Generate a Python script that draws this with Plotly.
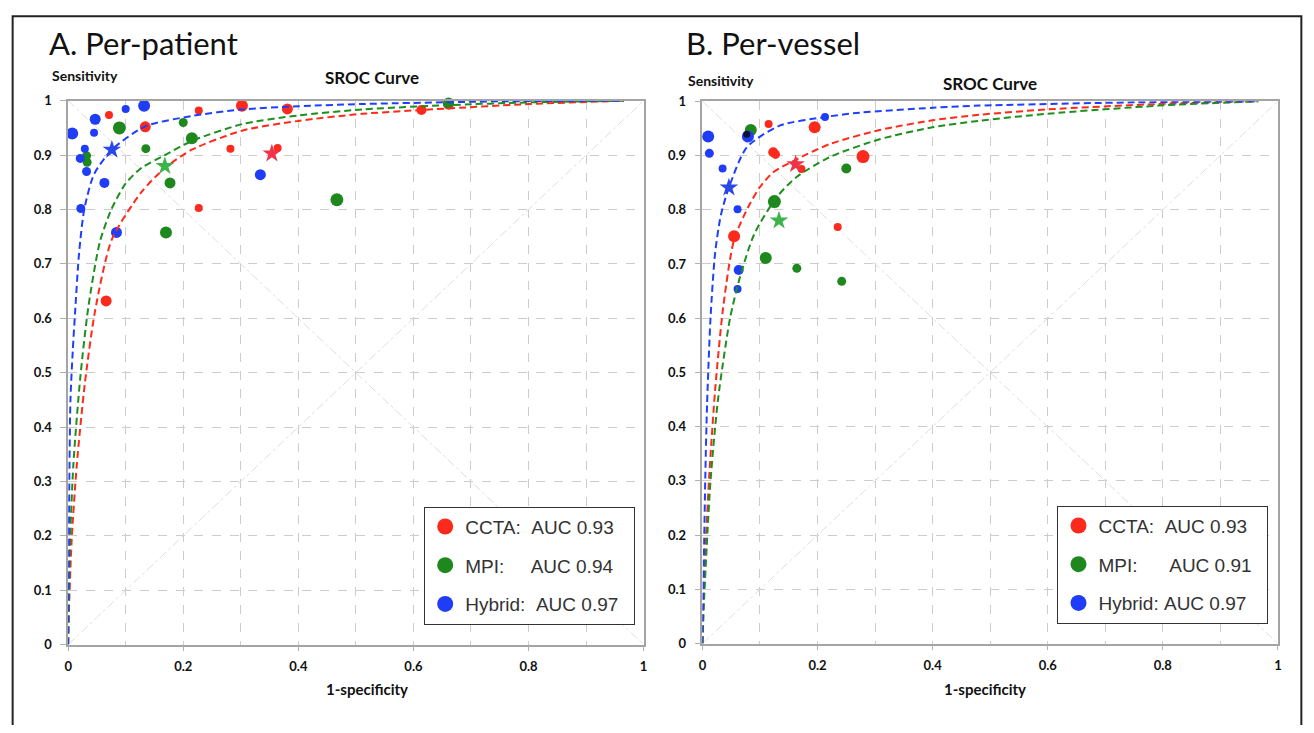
import plotly.graph_objects as go

# figure size (the page adds an 8px body margin)
W, H = 1298, 717
# measured render calibration: screenshot_px = X0 + XS * figure_px (same for y)
X0, XS = 9.7, 0.9965
Y0, YS = 15.2, 0.978

# ---------------- Panel A: per-patient ----------------
a_ccta_x = [0.071, 0.134, 0.227, 0.302, 0.381, 0.282, 0.364, 0.227, 0.066, 0.614, 0.661]
a_ccta_y = [0.974, 0.952, 0.982, 0.991, 0.985, 0.912, 0.913, 0.803, 0.632, 0.983, 0.994]
a_ccta_s = [8, 11, 8, 12, 11, 8, 8, 8, 11, 10, 11]

a_mpi_x = [0.089, 0.032, 0.033, 0.135, 0.200, 0.215, 0.177, 0.467, 0.170, 0.661]
a_mpi_y = [0.950, 0.899, 0.887, 0.912, 0.960, 0.931, 0.849, 0.818, 0.758, 0.996]
a_mpi_s = [13, 9, 9, 9, 9, 12, 11, 13, 12, 11]

a_hyb_x = [0.007, 0.047, 0.100, 0.132, 0.045, 0.029, 0.021, 0.032, 0.063, 0.334, 0.022, 0.084]
a_hyb_y = [0.940, 0.966, 0.985, 0.991, 0.941, 0.912, 0.894, 0.870, 0.849, 0.864, 0.802, 0.758]
a_hyb_s = [12, 11, 8, 12, 8, 8, 9, 9, 10, 11, 9, 11]

a_star_x = [0.354, 0.168, 0.076]   # CCTA, MPI, Hybrid summary points
a_star_y = [0.903, 0.880, 0.910]

a_curve_ccta_x = [0, 0.001, 0.006, 0.015, 0.029, 0.047, 0.076, 0.128, 0.170, 0.215, 0.302, 0.400, 0.511, 0.614, 0.800, 0.966]
a_curve_ccta_y = [0, 0.050, 0.190, 0.330, 0.480, 0.615, 0.745, 0.833, 0.878, 0.910, 0.945, 0.963, 0.976, 0.983, 0.994, 1.0]
a_curve_mpi_x = [0, 0.001, 0.003, 0.009, 0.021, 0.035, 0.055, 0.075, 0.100, 0.128, 0.168, 0.215, 0.302, 0.400, 0.511, 0.661, 0.800, 0.966]
a_curve_mpi_y = [0, 0.070, 0.180, 0.330, 0.490, 0.620, 0.740, 0.800, 0.848, 0.877, 0.900, 0.926, 0.957, 0.973, 0.984, 0.992, 0.997, 1.0]
a_curve_hyb_x = [0, 0.001, 0.002, 0.004, 0.008, 0.012, 0.019, 0.028, 0.045, 0.076, 0.134, 0.215, 0.302, 0.400, 0.511, 0.754, 0.966]
a_curve_hyb_y = [0, 0.150, 0.300, 0.450, 0.540, 0.610, 0.720, 0.800, 0.865, 0.910, 0.953, 0.972, 0.984, 0.990, 0.994, 0.999, 1.0]

# ---------------- Panel B: per-vessel ----------------
b_ccta_x = [0.055, 0.115, 0.195, 0.123, 0.127, 0.172, 0.279, 0.235]
b_ccta_y = [0.751, 0.958, 0.952, 0.906, 0.902, 0.875, 0.898, 0.768]
b_ccta_s = [12, 8, 12, 10, 9, 8, 13, 8]

b_mpi_x = [0.084, 0.250, 0.125, 0.110, 0.164, 0.242]
b_mpi_y = [0.947, 0.876, 0.815, 0.711, 0.692, 0.668]
b_mpi_s = [12, 10, 13, 12, 9, 9]

b_hyb_x = [0.010, 0.012, 0.035, 0.061, 0.063, 0.061, 0.079, 0.213]
b_hyb_y = [0.935, 0.904, 0.876, 0.801, 0.689, 0.654, 0.935, 0.971]
b_hyb_s = [12, 9, 8, 8, 10, 8, 12, 8]

b_dark_x = [0.077]
b_dark_y = [0.939]

b_star_x = [0.162, 0.133, 0.046]
b_star_y = [0.884, 0.780, 0.841]

b_curve_ccta_x = [0, 0.002, 0.006, 0.012, 0.022, 0.036, 0.055, 0.079, 0.100, 0.123, 0.162, 0.221, 0.308, 0.400, 0.481, 0.600, 0.793, 0.966]
b_curve_ccta_y = [0, 0.080, 0.191, 0.313, 0.467, 0.620, 0.745, 0.804, 0.842, 0.869, 0.892, 0.921, 0.947, 0.965, 0.975, 0.985, 0.995, 1.0]
b_curve_mpi_x = [0, 0.003, 0.009, 0.014, 0.027, 0.048, 0.065, 0.090, 0.129, 0.163, 0.221, 0.308, 0.400, 0.481, 0.600, 0.793, 0.966]
b_curve_mpi_y = [0, 0.085, 0.210, 0.300, 0.450, 0.600, 0.675, 0.755, 0.823, 0.860, 0.897, 0.930, 0.952, 0.964, 0.977, 0.992, 1.0]
b_curve_hyb_x = [0, 0.001, 0.003, 0.005, 0.008, 0.014, 0.022, 0.032, 0.046, 0.077, 0.134, 0.213, 0.273, 0.400, 0.481, 0.750, 0.966]
b_curve_hyb_y = [0, 0.070, 0.190, 0.310, 0.440, 0.600, 0.720, 0.790, 0.841, 0.915, 0.955, 0.971, 0.979, 0.988, 0.992, 0.998, 1.0]

diag_x = [0, 1]
diag_up_y = [0, 1]
diag_down_y = [1, 0]

NB = "\u00a0"
a_legend = ["CCTA:" + NB * 2 + "AUC 0.93" + NB * 2, "MPI:" + NB * 5 + "AUC 0.94" + NB * 2,
            "Hybrid:" + NB * 2 + "AUC 0.97" + NB * 2]
b_legend = ["CCTA:" + NB * 2 + "AUC 0.93" + NB * 2, "MPI:" + NB * 6 + "AUC 0.91" + NB * 2,
            "Hybrid:" + NB + "AUC 0.97" + NB * 2]

RED, GREEN, BLUE = "#fb2a1c", "#1e881e", "#1f3cf7"
STAR_COLORS = ["#ef3348", "#3cb44a", "#2a48e8"]
CURVE_COLORS = ["#ff2a1a", "#1c8f1c", "#1f3fff"]

fig = go.Figure()


def add_panel(xa, ya, ccta, mpi, hyb, stars, curves, legend_names, legend_id, dark=None):
    # chance diagonals
    for dy in (diag_up_y, diag_down_y):
        fig.add_trace(go.Scatter(x=diag_x, y=dy, mode="lines", xaxis=xa, yaxis=ya,
                                 line=dict(color="#dedede", width=1, dash="dashdot"),
                                 showlegend=False, hoverinfo="skip"))
    # study points
    for (xs, ys, ss), col in zip((ccta, mpi, hyb), (RED, GREEN, BLUE)):
        fig.add_trace(go.Scatter(x=xs, y=ys, mode="markers", xaxis=xa, yaxis=ya,
                                 marker=dict(color=col, size=ss, opacity=1, line=dict(width=0)),
                                 cliponaxis=False, showlegend=False))
    if dark is not None:
        fig.add_trace(go.Scatter(x=dark[0], y=dark[1], mode="markers", xaxis=xa, yaxis=ya,
                                 marker=dict(color="#101030", size=7, opacity=1),
                                 cliponaxis=False, showlegend=False))
    # SROC curves
    for (cx, cy), col in zip(curves, CURVE_COLORS):
        fig.add_trace(go.Scatter(x=cx, y=cy, mode="lines", xaxis=xa, yaxis=ya,
                                 line=dict(color=col, width=2, dash="7px,4px", shape="spline",
                                           smoothing=0.7),
                                 showlegend=False, hoverinfo="skip"))
    # summary points
    for i in range(3):
        fig.add_trace(go.Scatter(x=[stars[0][i]], y=[stars[1][i]], mode="markers",
                                 xaxis=xa, yaxis=ya,
                                 marker=dict(symbol="star", size=14, color=STAR_COLORS[i],
                                             opacity=1, line=dict(width=0)),
                                 cliponaxis=False, showlegend=False))
    # legend entries
    for name, col in zip(legend_names, (RED, GREEN, BLUE)):
        fig.add_trace(go.Scatter(x=[None], y=[None], mode="markers", xaxis=xa, yaxis=ya,
                                 name=name, legend=legend_id, legendgroup=legend_id + name,
                                 marker=dict(color=col, size=16)))


add_panel("x", "y", (a_ccta_x, a_ccta_y, a_ccta_s), (a_mpi_x, a_mpi_y, a_mpi_s),
          (a_hyb_x, a_hyb_y, a_hyb_s), (a_star_x, a_star_y),
          [(a_curve_ccta_x, a_curve_ccta_y), (a_curve_mpi_x, a_curve_mpi_y),
           (a_curve_hyb_x, a_curve_hyb_y)], a_legend, "legend")
add_panel("x2", "y2", (b_ccta_x, b_ccta_y, b_ccta_s), (b_mpi_x, b_mpi_y, b_mpi_s),
          (b_hyb_x, b_hyb_y, b_hyb_s), (b_star_x, b_star_y),
          [(b_curve_ccta_x, b_curve_ccta_y), (b_curve_mpi_x, b_curve_mpi_y),
           (b_curve_hyb_x, b_curve_hyb_y)], b_legend, "legend2", dark=(b_dark_x, b_dark_y))


def fx(px):   # target screenshot pixel -> paper x
    return min(max((px - X0) / XS / W, 0.0005), 0.9995)


def fy(py):   # target screenshot pixel -> paper y
    return min(max(1 - (py - Y0) / YS / H, 0.0005), 0.9995)


tickfont = dict(family="Lato", size=13, color="#111", weight="bold")


def xaxis(x0, x1):
    return dict(domain=[fx(x0), fx(x1)], range=[0, 1], dtick=0.2,
                tick0=0, showline=True, mirror=True, linecolor="#a4a4a4", linewidth=1.5,
                ticks="outside", ticklen=5, tickcolor="#b0b0b0", showgrid=True,
                gridcolor="#cccccc", griddash="dash", gridwidth=1, zeroline=False,
                tickfont=tickfont, ticklabelstandoff=4,
                minor=dict(dtick=0.1, showgrid=True, gridcolor="#cccccc", griddash="dash",
                           gridwidth=1, ticks=""))


def yaxis(ytop, ybot, anchor):
    return dict(domain=[fy(ybot), fy(ytop)], range=[0, 1],
                dtick=0.1, tick0=0, showline=True, mirror=True, linecolor="#a4a4a4",
                linewidth=1.5, ticks="outside", ticklen=6, tickcolor="#b0b0b0",
                showgrid=True, gridcolor="#cccccc", griddash="dash", gridwidth=1,
                zeroline=False, tickfont=tickfont, ticklabelstandoff=6, anchor=anchor)


def legend_box(x_px, y_px):
    return dict(x=fx(x_px), y=fy(y_px), xanchor="left", yanchor="top",
                bordercolor="#333333", borderwidth=1, bgcolor="white",
                font=dict(family="Liberation Sans", size=19, color="#333333"),
                traceorder="grouped", tracegroupgap=11, itemclick=False)


ann = []


def text(x, y, s, size, xanchor="left", family="Lato", bold=True):
    ann.append(dict(x=fx(x), y=fy(y), xref="paper", yref="paper", text=s,
                    showarrow=False, xanchor=xanchor, yanchor="middle",
                    font=dict(family=family, size=size, color="#111",
                              weight="bold" if bold else "normal")))


text(45, 42, "A. Per-patient", 31, bold=False)
text(684, 42, "B. Per-vessel", 31, bold=False)
text(48, 75, "Sensitivity", 14)
text(686, 80, "Sensitivity", 14)
text(371, 77, "SROC Curve", 17, xanchor="center")
text(990, 83, "SROC Curve", 17, xanchor="center")
text(366, 688, "1-specificity", 15, xanchor="center")
text(985, 688, "1-specificity", 15, xanchor="center")

fig.update_layout(
    width=W, height=H, margin=dict(l=0, r=0, t=0, b=0),
    paper_bgcolor="white", plot_bgcolor="white",
    xaxis=xaxis(66, 643), yaxis=yaxis(100, 644, "x"),
    xaxis2=dict(xaxis(702, 1279), anchor="y2"),
    yaxis2=yaxis(100.5, 643, "x2"),
    legend=legend_box(423, 506), legend2=legend_box(1058, 505),
    annotations=ann,
    shapes=[dict(type="rect", xref="paper", yref="paper", x0=fx(8), x1=fx(1306),
                 y0=-0.05, y1=fy(8), line=dict(color="#222", width=2))],
    hovermode=False,
)

fig.write_html("out.html")
